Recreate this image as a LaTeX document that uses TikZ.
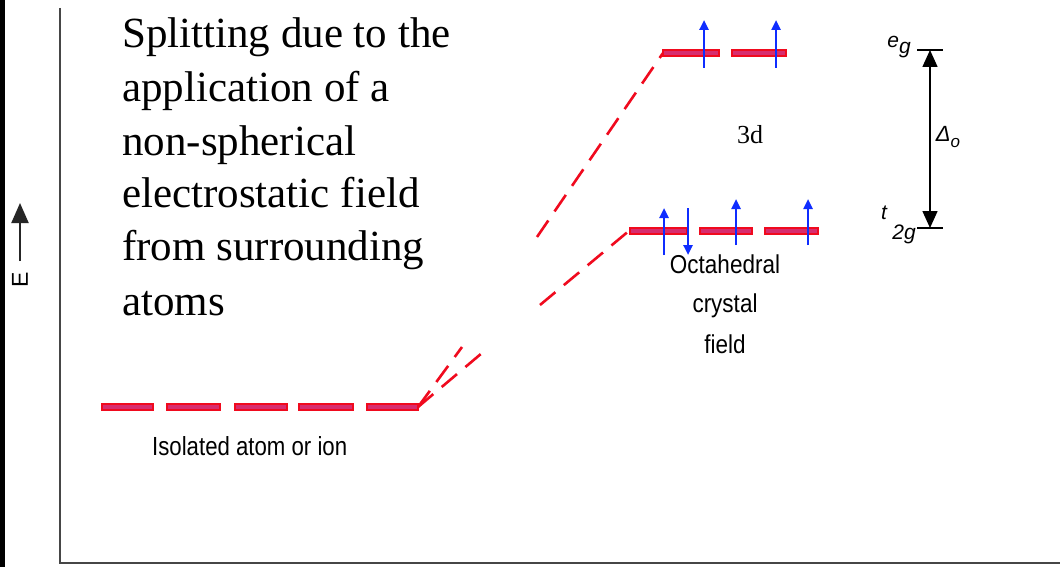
\documentclass[tikz,border=0pt]{standalone}
\usepackage{fontspec}
\usepackage{graphicx}
\setmainfont{Liberation Serif}
\setsansfont{Liberation Sans}
\usetikzlibrary{arrows.meta}
\definecolor{lvlred}{RGB}{240,10,30}
\definecolor{lvlfill}{RGB}{215,45,110}
\definecolor{spinblue}{RGB}{15,45,255}
\definecolor{axisgray}{RGB}{70,70,70}
\begin{document}
\begin{tikzpicture}[x=1pt,y=-1pt,
  level/.style={draw=lvlred, fill=lvlfill, line width=1.4pt},
  slope/.style={draw=lvlred, line width=2.6pt, dash pattern=on 20pt off 11pt},
  spin/.style={draw=spinblue, line width=2.4pt, -{Triangle[length=10pt,width=9pt]}},
  axisline/.style={draw=axisgray, line width=2pt},
  titleline/.style={anchor=base west, inner sep=0, font=\fontsize{43}{53}\selectfont},
  sanslabel/.style={anchor=base, inner sep=0, font=\sffamily\fontsize{22.5}{26}\selectfont},
  smalllabel/.style={inner sep=0, font=\sffamily\itshape\fontsize{21}{21}\selectfont},
  tick/.style={draw=black, line width=1.2pt}
]
\fill[white] (0,0) rectangle (1060,567);
\useasboundingbox (0,0) rectangle (1060,567);
\fill[black] (0,0) rectangle (5,567);

% axes
\coordinate (ytop) at (60,8);
\coordinate (orig) at (60,563);
\coordinate (xend) at (1060,563);
\draw[axisline] (ytop) -- (orig) -- (xend);

% energy arrow
\node[rotate=90, inner sep=0, font=\sffamily\fontsize{23}{23}\selectfont] (elabel) at (20,280) {E};
\coordinate (ebot) at (20,261);
\coordinate (etop) at (20,203);
\draw[draw=black!85, line width=2pt, -{Triangle[length=20pt,width=17pt]}] (ebot) -- (etop);

% title
\node[titleline] (t1) at (122,48) {Splitting due to the};
\node[titleline] (t2) at (122,102) {application of a};
\node[titleline] (t3) at (122,155) {non-spherical};
\node[titleline] (t4) at (122,207) {electrostatic field};
\node[titleline] (t5) at (122,260) {from surrounding};
\node[titleline] (t6) at (122,315) {atoms};

% isolated level
\foreach \a/\b in {102/153,167/220,235/287,299/353,367/418}
  \draw[level] (\a,404) rectangle (\b,410);
\node[anchor=base west, inner sep=0, font=\sffamily\fontsize{22.2}{26}\selectfont] (iso) at (152,455) {\scalebox{1}[1.18]{Isolated atom or ion}};

% slopes
\coordinate (s0) at (418,407);
\coordinate (u1) at (462,347);
\coordinate (u2) at (537,237);
\coordinate (u3) at (663,53);
\coordinate (l1) at (482,353);
\coordinate (l2) at (540,305);
\coordinate (l3) at (630,230);
\draw[slope] (s0) -- (u1);
\draw[slope] (u2) -- (u3);
\draw[slope] (s0) -- (l1);
\draw[slope] (l2) -- (l3);

% eg level
\foreach \a/\b in {663/719,732/786}
  \draw[level] (\a,50) rectangle (\b,56);
% t2g level
\foreach \a/\b in {630/687,700/752,765/818}
  \draw[level] (\a,228) rectangle (\b,234);

% spins
\draw[spin] (704,68) -- (704,20);
\draw[spin] (776,68) -- (776,20);
\draw[spin] (664,255) -- (664,208);
\draw[spin] (688,208) -- (688,255);
\draw[spin] (736,245) -- (736,199);
\draw[spin] (808,245) -- (808,199);

% labels
\node[anchor=base west, inner sep=0, font=\fontsize{26}{26}\selectfont] (d3) at (737,144) {3d};
\node[sanslabel] (oct) at (725,273) {\scalebox{1}[1.15]{Octahedral}};
\node[sanslabel] (cry) at (725,312) {\scalebox{1}[1.15]{crystal}};
\node[sanslabel] (fie) at (725,353) {\scalebox{1}[1.15]{field}};

% splitting arrow
\coordinate (egl) at (917,50);
\coordinate (egr) at (943,50);
\coordinate (tgl) at (917,228);
\coordinate (tgr) at (943,228);
\coordinate (da) at (930,50);
\coordinate (db) at (930,228);
\draw[tick] (egl) -- (egr);
\draw[tick] (tgl) -- (tgr);
\draw[line width=1.5pt, {Triangle[length=17pt,width=15pt]}-{Triangle[length=17pt,width=15pt]}] (da) -- (db);
\node[smalllabel] (eg) at (899,47) {e\raisebox{-6pt}{g}};
\node[smalllabel] (tt) at (884,213) {t};
\node[smalllabel] (t2) at (904,234) {2g};
\node[smalllabel, font=\sffamily\itshape\fontsize{22}{22}\selectfont] (del) at (948,137) {Δ\raisebox{-6pt}{\fontsize{17}{17}\selectfont o}};
\end{tikzpicture}
\end{document}
